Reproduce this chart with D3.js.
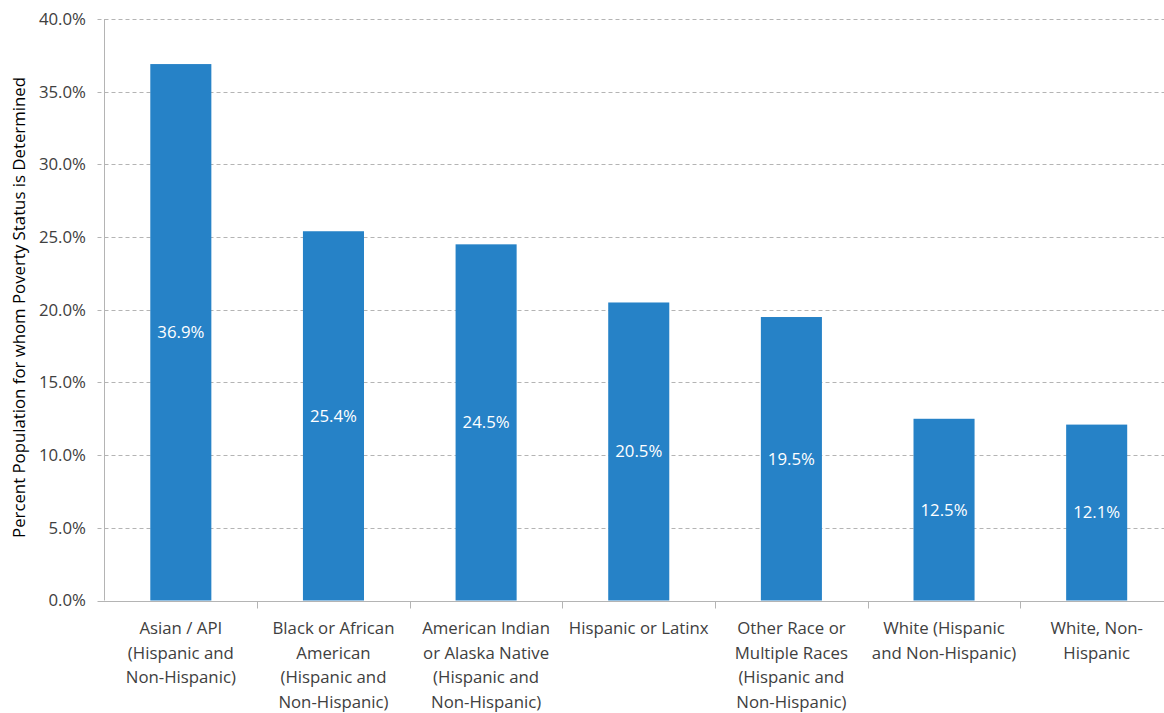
<!DOCTYPE html>
<html><head><meta charset="utf-8">
<script src="https://cdn.jsdelivr.net/npm/d3@7"></script>
<style>body{margin:0;background:#fff;} svg{display:block;}</style>
</head><body>
<svg id="c" width="1164" height="713"></svg>
<script>
const categories = [
  "Asian / API\n(Hispanic and\nNon-Hispanic)",
  "Black or African\nAmerican\n(Hispanic and\nNon-Hispanic)",
  "American Indian\nor Alaska Native\n(Hispanic and\nNon-Hispanic)",
  "Hispanic or Latinx",
  "Other Race or\nMultiple Races\n(Hispanic and\nNon-Hispanic)",
  "White (Hispanic\nand Non-Hispanic)",
  "White, Non-\nHispanic"
];
const values = [36.9, 25.4, 24.5, 20.5, 19.5, 12.5, 12.1];
const yTicks = [0, 5, 10, 15, 20, 25, 30, 35, 40];
const yTitle = "Percent Population for whom Poverty Status is Determined";

(function() {
const font = "'Open Sans', sans-serif";
const fs = 16.8;
const svg = d3.select("#c");
const pLeft = 104.5, pRight = 1173, pTop = 19, pBottom = 600.5;

const x = d3.scaleBand().domain(categories).range([pLeft, pRight]).paddingInner(0.6).paddingOuter(0.3);
const y = d3.scaleLinear().domain([0, 40]).range([pBottom, pTop]);

// gridlines
svg.append("g").selectAll("line").data(yTicks.filter(d => d > 0)).join("line")
  .attr("x1", pLeft - 7).attr("x2", pRight)
  .attr("y1", d => Math.round(y(d)) + 0.5).attr("y2", d => Math.round(y(d)) + 0.5)
  .attr("stroke", "#b4b4b4").attr("stroke-dasharray", "4,3").attr("stroke-width", 1);

// y tick labels
svg.append("g").selectAll("text").data(yTicks).join("text")
  .attr("x", 86).attr("y", d => y(d)).attr("dy", "0.35em")
  .attr("text-anchor", "end").attr("font-family", font).attr("font-size", fs)
  .attr("fill", "#404040").text(d => d.toFixed(1) + "%");

// bars
svg.append("g").selectAll("rect").data(values).join("rect")
  .attr("x", (d, i) => x(categories[i])).attr("width", x.bandwidth())
  .attr("y", d => y(d)).attr("height", d => y(0) - y(d))
  .attr("fill", "#2682c7");

// value labels
svg.append("g").selectAll("text").data(values).join("text")
  .attr("x", (d, i) => x(categories[i]) + x.bandwidth() / 2)
  .attr("y", d => (y(d) + y(0)) / 2).attr("dy", "0.35em")
  .attr("text-anchor", "middle").attr("font-family", font).attr("font-size", fs)
  .attr("fill", "#ffffff").text(d => d.toFixed(1) + "%");

const zeroY = Math.round(y(0)) + 0.5;
svg.append("line").attr("x1", pLeft).attr("x2", pLeft).attr("y1", pTop).attr("y2", pBottom)
  .attr("stroke", "#b4b4b4");
svg.append("line").attr("x1", pLeft - 7).attr("x2", pRight).attr("y1", zeroY).attr("y2", zeroY)
  .attr("stroke", "#b4b4b4");
const step = x.step();
const bounds = categories.map(c => x(c) - (step - x.bandwidth()) / 2);
svg.append("g").selectAll("line").data(bounds.slice(1)).join("line")
  .attr("x1", d => Math.round(d) + 0.5).attr("x2", d => Math.round(d) + 0.5)
  .attr("y1", zeroY).attr("y2", zeroY + 7).attr("stroke", "#b4b4b4");

// category labels
const cl = svg.append("g").selectAll("text").data(categories).join("text")
  .attr("text-anchor", "middle").attr("font-family", font).attr("font-size", fs)
  .attr("fill", "#404040");
cl.each(function(c) {
  const t = d3.select(this);
  c.split("\n").forEach((line, j) => {
    t.append("tspan").attr("x", x(c) + x.bandwidth() / 2).attr("y", 634 + j * 24.5).text(line);
  });
});

// y title
svg.append("text").attr("transform", "translate(25,307.5) rotate(-90)")
  .attr("text-anchor", "middle").attr("font-family", font).attr("font-size", 16.8)
  .attr("fill", "#000").text(yTitle);
})();
</script>
</body></html>
